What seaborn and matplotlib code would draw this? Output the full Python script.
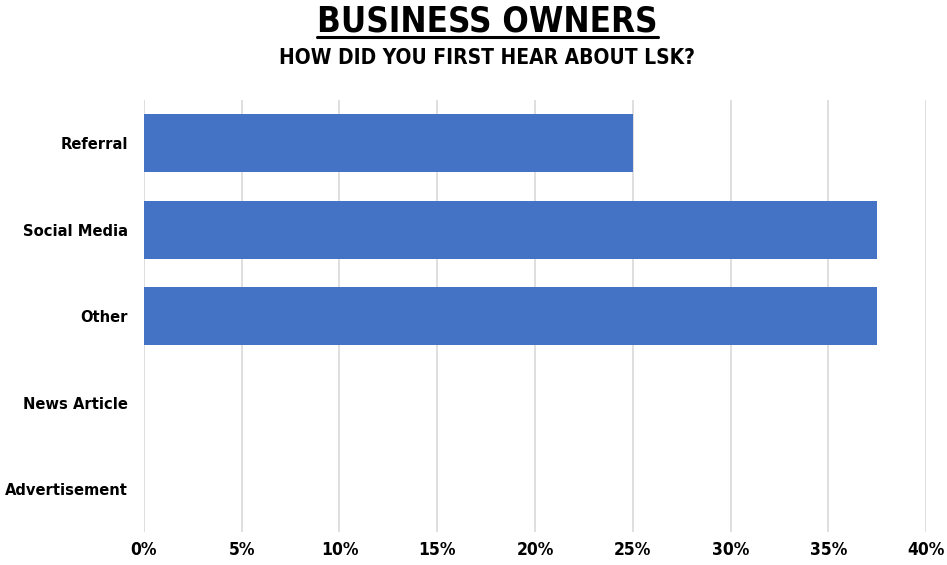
import matplotlib
matplotlib.use("Agg")
import matplotlib.pyplot as plt
from matplotlib.lines import Line2D
from matplotlib.ticker import FuncFormatter, MultipleLocator
import seaborn as sns
import pandas as pd

categories = ["Referral", "Social Media", "Other", "News Article", "Advertisement"]
shares = [0.25, 0.375, 0.375, 0.0, 0.0]
title = "BUSINESS OWNERS"
subtitle = "HOW DID YOU FIRST HEAR ABOUT LSK?"

sns.set_theme(style="white")
plt.rcParams["font.family"] = ["DejaVu Sans"]
plt.rcParams["font.stretch"] = "condensed"

df = pd.DataFrame({"source": categories, "share": shares})

fig = plt.figure(figsize=(9.47, 5.65), dpi=100)
ax = fig.add_axes([0.152, 0.058, 0.826, 0.765])

sns.barplot(data=df, x="share", y="source", order=categories, color="#4472C4",
            saturation=1, width=0.67, linewidth=0, ax=ax, zorder=3)

ax.set_xlim(0, 0.40)
ax.xaxis.set_major_locator(MultipleLocator(0.05))
ax.xaxis.set_major_formatter(FuncFormatter(lambda v, _: f"{v*100:.0f}%"))
ax.grid(axis="x", color="#d9d9d9", linewidth=1.2, zorder=0)
ax.grid(axis="y", visible=False)
for s in ax.spines.values():
    s.set_visible(False)
ax.set_xlabel("")
ax.set_ylabel("")
ax.tick_params(axis="x", length=0, pad=6, labelsize=12.5)
ax.tick_params(axis="y", length=0, pad=11.5, labelsize=11.8)
for lbl in ax.get_xticklabels() + ax.get_yticklabels():
    lbl.set_fontweight("bold")
    lbl.set_color("black")

t = fig.text(0.515, 0.962, title, ha="center", va="center",
             fontsize=25, fontweight="bold", color="black")
fig.text(0.514, 0.897, subtitle, ha="center", va="center",
         fontsize=15, fontweight="bold", color="black")

# underline the main heading
fig.canvas.draw()
bb = t.get_window_extent(renderer=fig.canvas.get_renderer())
inv = fig.transFigure.inverted()
(x0, y0), (x1, y1) = inv.transform([(bb.x0, bb.y0), (bb.x1, bb.y1)])
fig.add_artist(Line2D([x0, x1], [y0 + 0.002, y0 + 0.002], color="black",
                      linewidth=2.2, transform=fig.transFigure))

fig.savefig("out.png", dpi=100, facecolor="white")
